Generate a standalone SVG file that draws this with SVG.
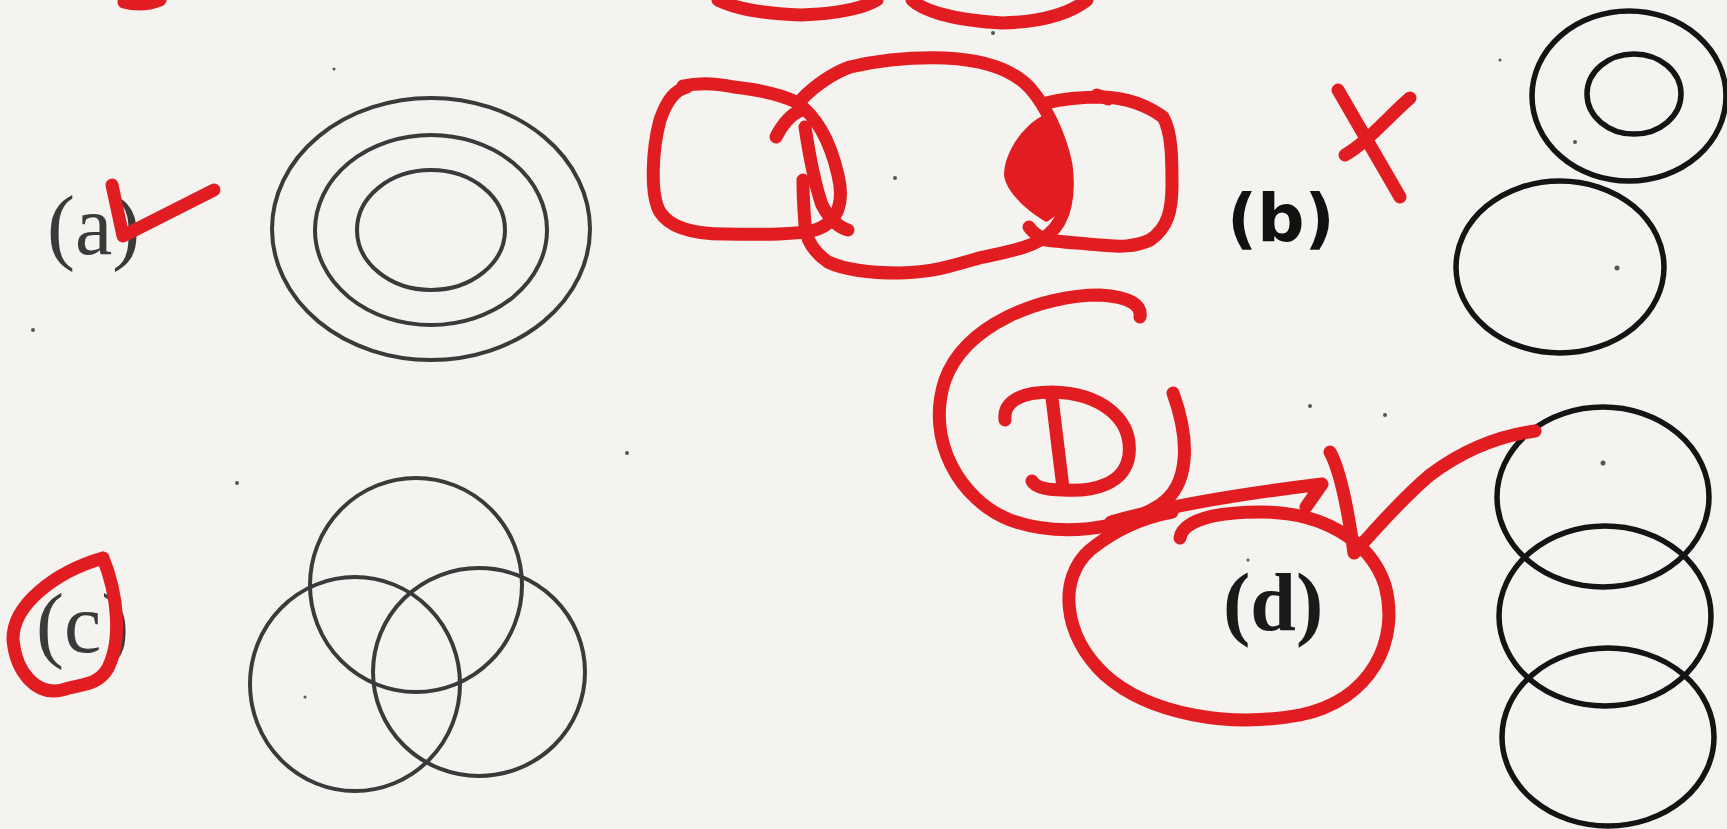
<svg xmlns="http://www.w3.org/2000/svg" width="1727" height="829" viewBox="0 0 1727 829">
<style>
.ink{fill:none;stroke:#3a3a3a;stroke-width:4}
.ink2{fill:none;stroke:#141414;stroke-width:5.5}
.red{fill:none;stroke:#e21d22;stroke-width:13;stroke-linecap:round;stroke-linejoin:round}
.speck{fill:#555}
</style>
<rect width="1727" height="829" fill="#f4f3f0"/>
<g id="specks">
<circle class="speck" cx="33" cy="330" r="2"/><circle class="speck" cx="334" cy="69" r="1.5"/>
<circle class="speck" cx="993" cy="33" r="2"/><circle class="speck" cx="1617" cy="268" r="2.5"/>
<circle class="speck" cx="1575" cy="142" r="2"/><circle class="speck" cx="1385" cy="415" r="2"/>
<circle class="speck" cx="1248" cy="560" r="1.5"/><circle class="speck" cx="1603" cy="463" r="2.5"/>
<circle class="speck" cx="237" cy="483" r="2"/><circle class="speck" cx="627" cy="453" r="2"/>
<circle class="speck" cx="305" cy="697" r="1.5"/><circle class="speck" cx="1310" cy="406" r="2"/>
<circle class="speck" cx="895" cy="178" r="2"/><circle class="speck" cx="1500" cy="60" r="1.5"/>
</g>
<g id="fig-a">
<ellipse class="ink" cx="431" cy="229" rx="159" ry="131"/>
<ellipse class="ink" cx="431" cy="230" rx="116" ry="95"/>
<ellipse class="ink" cx="431" cy="230" rx="74" ry="60"/>
<text x="47" y="254" font-family="'Liberation Serif', 'Times New Roman', serif" font-size="84" fill="#3a3a3a">(a)</text>
</g>
<g id="fig-b">
<ellipse class="ink2" cx="1629" cy="96" rx="97" ry="85"/>
<ellipse class="ink2" cx="1634" cy="94" rx="47" ry="40"/>
<ellipse class="ink2" cx="1560" cy="267" rx="104" ry="86"/>
<text x="1227" y="241" font-family="'DejaVu Sans', sans-serif" font-size="66" font-weight="bold" fill="#111">(b)</text>
</g>
<g id="fig-c">
<ellipse class="ink" cx="416" cy="585" rx="106" ry="107"/>
<ellipse class="ink" cx="355" cy="684" rx="105" ry="107"/>
<ellipse class="ink" cx="479" cy="672" rx="106" ry="104"/>
<text x="36" y="652" font-family="'Liberation Serif', 'Times New Roman', serif" font-size="84" fill="#3a3a3a">(c)</text>
</g>
<g id="fig-d">
<ellipse class="ink2" cx="1603" cy="497" rx="106" ry="90"/>
<ellipse class="ink2" cx="1605" cy="616" rx="106" ry="90"/>
<ellipse class="ink2" cx="1608" cy="737" rx="106" ry="89"/>
<text x="1223" y="630" font-family="'Liberation Serif', 'Times New Roman', serif" font-size="82" font-weight="bold" fill="#1a1a1a">(d)</text>
</g>
<g id="red-marks">
<path class="red" d="M124,2 Q142,7 160,0" stroke-width="9"/>
<path class="red" d="M718,0 C735,8 756,13 801,15 C830,14 860,10 877,0"/>
<path class="red" d="M912,0 C922,10 950,20 1002,23 C1040,22 1069,14 1087,0"/>
<path class="red" d="M112,185 L123,236 L214,190"/>
<path class="red" d="M1338,90 L1400,197 M1410,98 C1390,115 1370,140 1345,155"/>
<path class="red" d="M683,86 C700,82 720,84 734,87 C760,90 780,94 796,102 C815,115 830,140 838,175 C844,200 840,222 815,230 C790,236 750,234 725,234 C695,234 670,228 660,212 C650,195 652,150 660,120 C667,100 675,90 687,87"/>
<path class="red" d="M801,100 C815,85 835,72 850,67 C880,60 910,57 945,58 C990,60 1015,72 1030,88 C1045,105 1060,135 1066,165 C1070,195 1065,220 1050,233 C1035,248 1005,252 979,258 C955,265 935,272 900,273 C870,273 845,270 828,262 C815,253 806,240 805,225 C804,210 803,200 803,180"/>
<path class="red" d="M776,137 C782,125 790,115 801,110"/>
<path class="red" d="M805,127 C810,160 815,185 822,205 C830,220 840,228 848,230"/>
<path class="red" d="M1046,103 C1065,98 1090,97 1104,97 C1125,98 1145,104 1163,117 C1172,132 1172,160 1172,185 C1172,210 1168,228 1150,240 C1135,247 1120,247 1100,245 C1080,243 1060,242 1046,240 C1038,236 1032,232 1029,227"/>
<path class="red" d="M1097,95 L1108,99"/>
<path d="M1042,116 C1062,130 1072,160 1069,185 C1066,205 1056,218 1046,222 C1026,210 1006,192 1004,175 C1004,155 1020,128 1042,116 Z" fill="#e21d22"/>
<path class="red" d="M103,558 C118,595 122,640 108,668 C98,686 80,684 62,690 C36,696 16,672 13,640 C12,605 55,572 103,558"/>
<path class="red" d="M1140,317 C1142,305 1130,297 1100,295 C1040,295 965,325 945,380 C925,440 960,500 1010,520 C1060,538 1120,530 1160,505 C1190,485 1190,440 1173,393"/>
<path class="red" d="M1005,420 C1003,402 1020,392 1052,392 C1100,393 1133,418 1129,455 C1125,485 1092,492 1063,490 C1048,490 1036,488 1032,481"/>
<path class="red" d="M1052,398 L1063,488"/>
<path class="red" d="M1111,522 C1170,505 1240,494 1322,484 L1306,507"/>
<path class="red" d="M1330,452 C1340,470 1348,510 1354,553 C1375,530 1400,500 1430,475 C1470,445 1505,435 1535,431"/>
<path class="red" d="M1180,538 C1183,520 1215,512 1262,512 C1322,512 1370,540 1385,585 C1400,640 1372,700 1300,715 C1230,728 1150,715 1105,675 C1062,635 1058,578 1090,550 C1112,532 1140,518 1172,512"/>
</g>
</svg>
